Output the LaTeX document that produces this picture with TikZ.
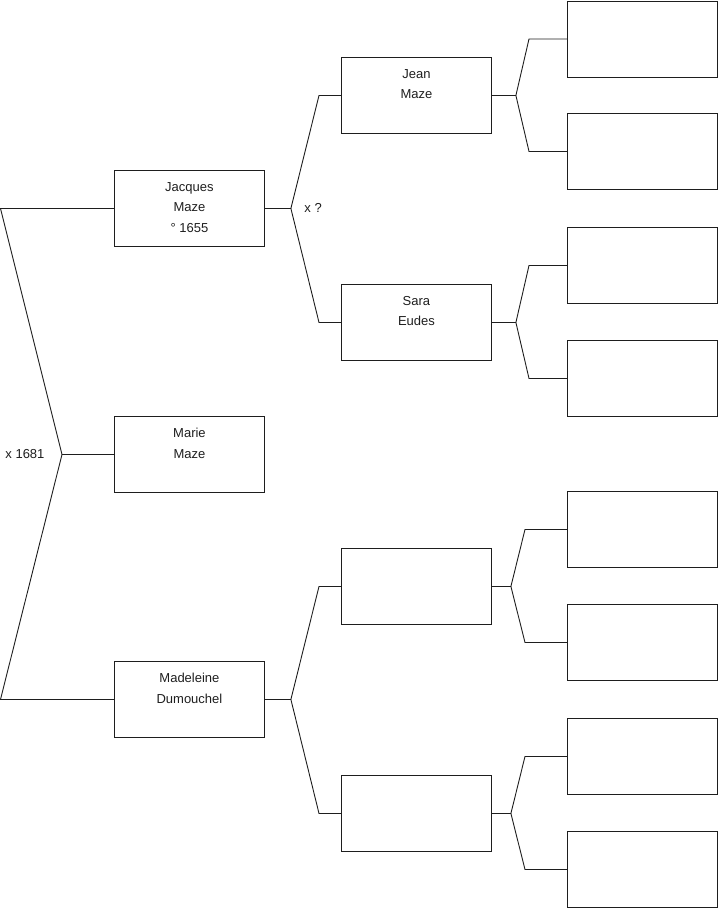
\documentclass[tikz,border=0pt]{standalone}
\usepackage{fontspec}
\setmainfont{Liberation Sans}
\begin{document}
\begin{tikzpicture}[x=1pt,y=-1pt,font=\fontsize{13}{20.5}\selectfont]
  \definecolor{ink}{HTML}{1E1E1E}
  \tikzset{
    person/.style={draw=ink,line width=0.9pt,minimum width=150pt,minimum height=76pt,
      inner sep=0pt,anchor=north west},
    who/.style={anchor=north,align=center,inner sep=0pt,yshift=-12pt,text=ink},
    link/.style={ink,line width=0.9pt}
  }
  % generation 1
  \node[person] (jacques) at (114,170) {};
  \node[person] (marie) at (114,416) {};
  \node[person] (madeleine) at (114,661) {};
  \node[who] (jacques-t) at (jacques.north) {Jacques\\Maze\\° 1655};
  \node[who] (marie-t) at (marie.north) {Marie\\Maze};
  \node[who] (madeleine-t) at (madeleine.north) {Madeleine\\Dumouchel};
  % generation 2
  \node[person] (jean) at (341,57) {};
  \node[person] (sara) at (341,284) {};
  \node[person] (p3) at (341,548) {};
  \node[person] (p4) at (341,775) {};
  \node[who] (jean-t) at (jean.north) {Jean\\Maze};
  \node[who] (sara-t) at (sara.north) {Sara\\Eudes};
  % generation 3
  \foreach \i/\yy in {1/0.5,2/113,3/227,4/340,5/491,6/604,7/718,8/831}{
    \node[person] (g\i) at (567,\yy) {};
  }
  % couple of generation 1
  \draw[link] (marie.west) -- ++(-52,0) coordinate (root);
  \draw[link] (jacques.west) -- (jacques.west -| 0.5,0) -- (root)
    -- (madeleine.west -| 0.5,0) -- (madeleine.west);
  \node[anchor=east,text=ink] (wed1) at ([xshift=-14pt]root) {x 1681};
  % parents of generation 1
  \foreach \p/\a/\b in {jacques/jean/sara,madeleine/p3/p4}{
    \draw[link] (\p.east) -- ++(26,0) coordinate (f-\p)
      -- ([xshift=-22pt]\a.west) -- (\a.west);
    \draw[link] (f-\p) -- ([xshift=-22pt]\b.west) -- (\b.west);
  }
  \node[anchor=west,text=ink] (wed2) at ([xshift=10pt]f-jacques) {x ?};
  % parents of generation 2
  \foreach \p/\a/\b/\s/\d in {jean/g1/g2/24/38,sara/g3/g4/24/38,p3/g5/g6/19/42,p4/g7/g8/19/42}{
    \draw[link] (\p.east) -- ++(\s,0) coordinate (f-\p)
      -- ([xshift=-\d pt]\a.west) -- (\a.west);
    \draw[link] (f-\p) -- ([xshift=-\d pt]\b.west) -- (\b.west);
  }
  \path[use as bounding box] (0,0) rectangle (719,908);
\end{tikzpicture}
\end{document}
